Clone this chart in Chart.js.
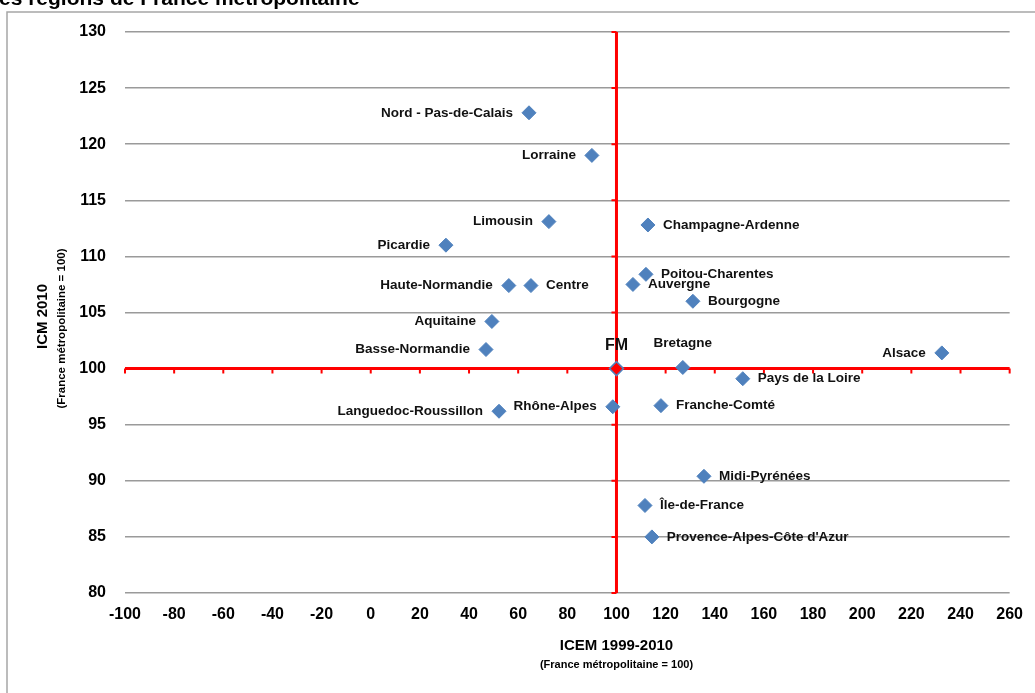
<!DOCTYPE html>
<html>
<head>
<meta charset="utf-8">
<script src="https://cdn.jsdelivr.net/npm/chart.js@4"></script>
<style>
  html, body { margin: 0; padding: 0; background: #fff; }
  #wrap { width: 1035px; height: 693px; position: relative; }
</style>
</head>
<body>
<div id="wrap"><canvas id="chart" width="1035" height="693"></canvas></div>
<script>
// Data
const regions = ["Nord - Pas-de-Calais", "Lorraine", "Limousin", "Picardie", "Champagne-Ardenne",
    "Poitou-Charentes", "Auvergne", "Bourgogne", "Haute-Normandie", "Centre", "Aquitaine",
    "Basse-Normandie", "Bretagne", "Alsace", "Pays de la Loire", "Franche-Comté", "Rhône-Alpes",
    "Languedoc-Roussillon", "Midi-Pyrénées", "Île-de-France", "Provence-Alpes-Côte d'Azur"];
const icem = [64.4, 90.0, 72.5, 30.6, 112.8, 112.0, 106.7, 131.1, 56.2, 65.2, 49.3,
    46.9, 127.0, 232.4, 151.4, 118.1, 98.5, 52.2, 135.6, 111.6, 114.4];
const icm = [122.8, 119.0, 113.1, 111.0, 112.8, 108.4, 107.5, 106.0, 107.4, 107.4, 104.2,
    101.7, 100.1, 101.4, 99.1, 96.7, 96.6, 96.2, 90.4, 87.8, 85.0];
const fmIcem = [100];
const fmIcm = [100];
const xTicks = { min: -100, max: 260, step: 20 };
const yTicks = { min: 80, max: 130, step: 5 };

const FONT = "'Liberation Sans', Arial, sans-serif";

// which side each label sits on
const labelSide = {
    "Champagne-Ardenne": "right", "Poitou-Charentes": "right", "Auvergne": "right",
    "Bourgogne": "right", "Centre": "right", "Bretagne": "above", "Pays de la Loire": "right",
    "Franche-Comté": "right", "Midi-Pyrénées": "right", "Île-de-France": "right",
    "Provence-Alpes-Côte d'Azur": "right"
};

// red axes crossing at 100 / 100, plus frame and titles
const axesPlugin = {
    id: "axesPlugin",
    beforeDatasetsDraw(chart) {
        const ctx = chart.ctx;
        const xs = chart.scales.x, ys = chart.scales.y;
        const area = chart.chartArea;
        const x0 = xs.getPixelForValue(100);
        const y0 = ys.getPixelForValue(100);
        ctx.save();
        ctx.strokeStyle = "#ff0000";
        ctx.lineWidth = 3;
        ctx.beginPath();
        ctx.moveTo(area.left, y0);
        ctx.lineTo(area.right, y0);
        ctx.moveTo(x0, area.top);
        ctx.lineTo(x0, area.bottom);
        ctx.stroke();
        ctx.lineWidth = 2;
        ctx.beginPath();
        for (let v = xTicks.min; v <= xTicks.max; v += xTicks.step) {
            const px = xs.getPixelForValue(v);
            ctx.moveTo(px, y0);
            ctx.lineTo(px, y0 + 5);
        }
        for (let v = yTicks.min; v <= yTicks.max; v += yTicks.step) {
            const py = ys.getPixelForValue(v);
            ctx.moveTo(x0, py);
            ctx.lineTo(x0 - 5, py);
        }
        ctx.stroke();
        ctx.restore();
    },
    afterDraw(chart) {
        const ctx = chart.ctx;
        const xs = chart.scales.x;
        const area = chart.chartArea;
        ctx.save();
        // frame
        ctx.strokeStyle = "#a6a6a6";
        ctx.lineWidth = 1.5;
        ctx.beginPath();
        ctx.moveTo(7, 700);
        ctx.lineTo(7, 12);
        ctx.lineTo(1040, 12);
        ctx.stroke();
        // title (cut at the top)
        ctx.fillStyle = "#000";
        ctx.font = "bold 21px " + FONT;
        ctx.textAlign = "left";
        ctx.textBaseline = "alphabetic";
        ctx.fillText("es régions de France métropolitaine", -1, 5);
        // x title
        const cx = xs.getPixelForValue(100);
        ctx.textAlign = "center";
        ctx.textBaseline = "middle";
        ctx.font = "bold 15px " + FONT;
        ctx.fillText("ICEM 1999-2010", cx, 646);
        ctx.font = "bold 11px " + FONT;
        ctx.fillText("(France métropolitaine = 100)", cx, 665);
        // y title
        const cy = (area.top + area.bottom) / 2 + 4;
        ctx.translate(43, cy);
        ctx.rotate(-Math.PI / 2);
        ctx.font = "bold 15px " + FONT;
        ctx.fillText("ICM 2010", 0, 0);
        ctx.font = "bold 11.5px " + FONT;
        ctx.fillText("(France métropolitaine = 100)", -12, 19);
        ctx.restore();
    }
};

const labelPlugin = {
    id: "labelPlugin",
    afterDatasetsDraw(chart) {
        const ctx = chart.ctx;
        ctx.save();
        ctx.fillStyle = "#111";
        ctx.textBaseline = "middle";
        chart.getDatasetMeta(0).data.forEach(function(pt, i) {
            const name = regions[i];
            const side = labelSide[name] || "left";
            ctx.font = "bold 13.5px " + FONT;
            if (side === "right") {
                ctx.textAlign = "left";
                ctx.fillText(name, pt.x + 15, pt.y);
            } else if (side === "above") {
                ctx.textAlign = "center";
                ctx.fillText(name, pt.x, pt.y - 24);
            } else {
                ctx.textAlign = "right";
                ctx.fillText(name, pt.x - 16, pt.y);
            }
        });
        const fm = chart.getDatasetMeta(1).data[0];
        ctx.font = "bold 16px " + FONT;
        ctx.textAlign = "center";
        ctx.fillText("FM", fm.x, fm.y - 23);
        ctx.restore();
    }
};

new Chart(document.getElementById("chart"), {
    type: "scatter",
    data: {
        datasets: [{
            label: "Régions",
            data: regions.map((r, i) => ({ x: icem[i], y: icm[i] })),
            pointStyle: "rectRot",
            pointRadius: 7,
            backgroundColor: "#4f81bd",
            borderColor: "#4f81bd",
            borderWidth: 1
        }, {
            label: "FM",
            data: fmIcem.map((v, i) => ({ x: v, y: fmIcm[i] })),
            pointStyle: "rectRot",
            pointRadius: 7,
            backgroundColor: "#ff0000",
            borderColor: "#4f81bd",
            borderWidth: 1.5
        }]
    },
    options: {
        responsive: false,
        animation: false,
        layout: { padding: { left: 0, top: 32, right: 25, bottom: 0 } },
        plugins: { legend: { display: false }, tooltip: { enabled: false } },
        scales: {
            x: {
                type: "linear",
                min: xTicks.min, max: xTicks.max,
                ticks: { stepSize: xTicks.step, padding: 12, color: "#000", font: { family: FONT, size: 16, weight: "bold" } },
                grid: { display: false, drawTicks: false },
                border: { display: false },
                afterFit(scale) { scale.height = 100; }
            },
            y: {
                type: "linear",
                min: yTicks.min, max: yTicks.max,
                ticks: { stepSize: yTicks.step, padding: 19, color: "#000", font: { family: FONT, size: 16, weight: "bold" } },
                grid: {
                    drawTicks: false,
                    color: ctx => ctx.tick && ctx.tick.value === 100 ? "rgba(0,0,0,0)" : "#9a9a9a",
                    lineWidth: 1.5
                },
                border: { display: false },
                afterFit(scale) { scale.width = 125; }
            }
        }
    },
    plugins: [axesPlugin, labelPlugin]
});
</script>
</body>
</html>
